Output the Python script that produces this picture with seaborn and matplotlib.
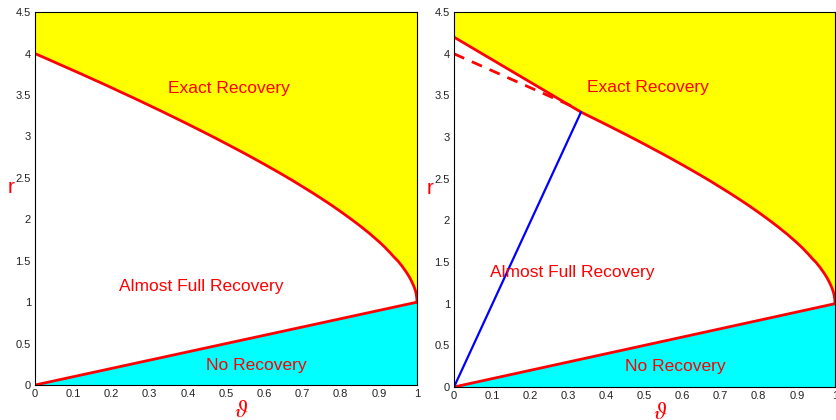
import numpy as np
import matplotlib
matplotlib.use("Agg")
import matplotlib.pyplot as plt
import seaborn as sns

# ---------------- DATA ---------------- #

theta = [0.0, 0.025, 0.05, 0.075, 0.1, 0.125, 0.15, 0.175, 0.2, 0.225, 0.25, 0.275,
         0.3, 0.3333, 0.35, 0.375, 0.4, 0.425, 0.45, 0.475, 0.5, 0.525, 0.55, 0.575,
         0.6, 0.625, 0.65, 0.675, 0.7, 0.725, 0.75, 0.775, 0.8, 0.825, 0.85, 0.875,
         0.9, 0.915, 0.93, 0.94, 0.95, 0.96, 0.97, 0.975, 0.98, 0.985, 0.99, 0.993,
         0.996, 0.998, 0.9995, 1.0]
r_exact = [4.0, 3.950, 3.899, 3.848, 3.797, 3.746, 3.694, 3.642, 3.589, 3.535, 3.482,
           3.428, 3.373, 3.300, 3.262, 3.206, 3.149, 3.091, 3.033, 2.974, 2.914, 2.853,
           2.792, 2.729, 2.665, 2.600, 2.534, 2.466, 2.395, 2.324, 2.250, 2.174, 2.094,
           2.011, 1.924, 1.832, 1.732, 1.667, 1.595, 1.543, 1.497, 1.440, 1.376, 1.341,
           1.303, 1.260, 1.210, 1.177, 1.136, 1.096, 1.046, 1.0]
r_none = [0.0, 1.0]
theta_none = [0.0, 1.0]

# right panel: steeper start, tangent (dashed) and blue ray
kink_theta = 0.3333
kink_r = 3.30
r_start_right = 4.2
tangent_theta = [0.0, 0.32]
tangent_r = [4.0, 3.35]
ray_theta = [0.0, kink_theta]
ray_r = [0.0, kink_r]

region_labels = ["Exact Recovery", "Almost Full Recovery", "No Recovery"]
label_pos_left = [(0.508, 3.58), (0.435, 1.19), (0.58, 0.24)]
label_pos_right = [(0.509, 3.59), (0.31, 1.37), (0.58, 0.24)]

x_ticks = [0, 0.1, 0.2, 0.3, 0.4, 0.5, 0.6, 0.7, 0.8, 0.9, 1]
y_ticks = [0, 0.5, 1, 1.5, 2, 2.5, 3, 3.5, 4, 4.5]

# ---------------- DRAWING ---------------- #

sns.set_style("white")
plt.rcParams["font.family"] = ["Liberation Sans", "DejaVu Sans"]
plt.rcParams["mathtext.fontset"] = "stix"

fig = plt.figure(figsize=(8.36, 4.2), dpi=100)
ax_l = fig.add_axes([0.0419, 0.0833, 0.4569, 0.8877])
ax_r = fig.add_axes([0.5431, 0.0786, 0.4557, 0.8925])

YELLOW = "#ffff00"
CYAN = "#00ffff"
RED = "#ff0000"


def style_axes(ax):
    ax.set_xlim(0, 1)
    ax.set_ylim(0, 4.5)
    ax.set_xticks(x_ticks)
    ax.set_xticklabels([f"{t:g}" for t in x_ticks])
    ax.set_yticks(y_ticks)
    ax.set_yticklabels([f"{t:g}" for t in y_ticks])
    ax.tick_params(direction="in", length=3, width=0.6, labelsize=8,
                   colors="#222222", top=False, right=False, pad=3)
    for s in ax.spines.values():
        s.set_visible(True)
        s.set_color("black")
        s.set_linewidth(0.8)
    ax.set_xlabel(r"$\vartheta$", color=RED, fontsize=17, labelpad=0, va="center")
    ax.set_ylabel("r", color=RED, fontsize=15, rotation=0, labelpad=8, va="center")
    ax.yaxis.set_label_coords(-0.062, 0.53)
    ax.xaxis.set_label_coords(0.54, -0.07)


# left panel
th = np.array(theta)
ax_l.fill_between(th, r_exact, 4.5, color=YELLOW, lw=0)
ax_l.fill_between(theta_none, 0, r_none, color=CYAN, lw=0)
sns.lineplot(x=theta, y=r_exact, ax=ax_l, color=RED, lw=2, sort=False)
sns.lineplot(x=theta_none, y=r_none, ax=ax_l, color=RED, lw=2)
for txt, (px, py) in zip(region_labels, label_pos_left):
    ax_l.text(px, py, txt, color=RED, fontsize=12.5, ha="center", va="center")
style_axes(ax_l)

# right panel: upper boundary = straight segment then the curve
k = theta.index(kink_theta)
th_r = [0.0] + theta[k:]
r_r = [r_start_right] + r_exact[k:]
ax_r.fill_between(th_r, r_r, 4.5, color=YELLOW, lw=0)
ax_r.fill_between(theta_none, 0, r_none, color=CYAN, lw=0)
sns.lineplot(x=th_r, y=r_r, ax=ax_r, color=RED, lw=2, sort=False)
sns.lineplot(x=tangent_theta, y=tangent_r, ax=ax_r, color=RED, lw=2,
             linestyle=(0, (4, 3)))
sns.lineplot(x=theta_none, y=r_none, ax=ax_r, color=RED, lw=2)
sns.lineplot(x=ray_theta, y=ray_r, ax=ax_r, color="#0000ff", lw=1.6)
for txt, (px, py) in zip(region_labels, label_pos_right):
    ax_r.text(px, py, txt, color=RED, fontsize=12.5, ha="center", va="center")
style_axes(ax_r)

fig.savefig("out.png", dpi=100)
